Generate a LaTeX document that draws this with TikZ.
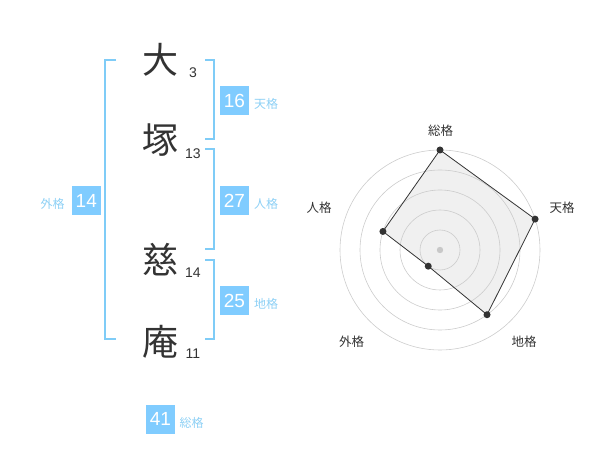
\documentclass[tikz,border=0pt]{standalone}
\usepackage{fontspec}
\setmainfont{Liberation Sans}
\newfontfamily\cjk{Noto Sans CJK JP}
\definecolor{bracketblue}{HTML}{7FCCF7}
\definecolor{boxblue}{HTML}{80CCFF}
\definecolor{labelblue}{HTML}{8DD0F5}
\definecolor{ink}{HTML}{333333}
\definecolor{ringgray}{HTML}{CCCCCC}
\definecolor{polyfill}{HTML}{F0F0F0}
\definecolor{centergray}{HTML}{C8C8C8}
\begin{document}
\begin{tikzpicture}[x=1pt,y=-1pt,
  bigchar/.style={font=\cjk\fontsize{36}{36}\selectfont, text=ink, inner sep=0pt},
  strokenum/.style={font=\fontsize{14}{14}\selectfont, text=ink, inner sep=0pt},
  valbox/.style={fill=boxblue, text=white, minimum width=29pt, minimum height=29pt, inner sep=0pt, font=\fontsize{19}{19}\selectfont},
  kaku/.style={font=\cjk\fontsize{12}{12}\selectfont, text=labelblue, inner sep=0pt},
  bracket/.style={draw=bracketblue, line width=2pt},
  axislabel/.style={font=\cjk\fontsize{12.5}{12.5}\selectfont, text=ink, inner sep=0pt},
  ring/.style={draw=ringgray, line width=0.6pt},
  vdot/.style={circle, fill=ink, inner sep=0pt, minimum size=7pt},
]
\useasboundingbox (0,0) rectangle (600,470);
% characters
\node[bigchar] (c1) at (160,60) {大};
\node[bigchar] (c2) at (160,140.5) {塚};
\node[bigchar] (c3) at (160,260) {慈};
\node[bigchar] (c4) at (160,341.7) {庵};
\node[strokenum] (n1) at (193,72.5) {3};
\node[strokenum] (n2) at (193,153.3) {13};
\node[strokenum] (n3) at (193,272.5) {14};
\node[strokenum] (n4) at (193,353.3) {11};
% brackets
\draw[bracket] (116,60) -- (105,60) -- (105,339.3) -- (116,339.3);
\draw[bracket] (205,60) -- (214.3,60) -- (214.3,139.3) -- (205,139.3);
\draw[bracket] (205,149.3) -- (214.3,149.3) -- (214.3,249.3) -- (205,249.3);
\draw[bracket] (205,260) -- (214.3,260) -- (214.3,339.3) -- (205,339.3);
% value boxes
\node[valbox] (ten) at (234.5,100.5) {16};
\node[kaku] (tenl) at (266,104) {天格};
\node[valbox] (jin) at (234.5,200.5) {27};
\node[kaku] (jinl) at (266,204) {人格};
\node[valbox] (chi) at (234.5,300.5) {25};
\node[kaku] (chil) at (266,304) {地格};
\node[valbox] (gai) at (86.3,200.5) {14};
\node[kaku] (gail) at (52.7,204) {外格};
\node[valbox] (sou) at (160.5,419) {41};
\node[kaku] (soul) at (191.7,423.3) {総格};
% radar
\coordinate (c) at (440,250);
\begin{scope}[shift={(440,250)}]
  \coordinate (p1) at (-90:100);
  \coordinate (p2) at (-18:100);
  \coordinate (p3) at (54:80);
  \coordinate (p4) at (126:20);
  \coordinate (p5) at (198:60);
\end{scope}
\fill[polyfill] (p1) -- (p2) -- (p3) -- (p4) -- (p5) -- cycle;
\foreach \r in {20,40,60,80,100} \draw[ring] (c) circle[radius=\r pt];
\fill[centergray] (c) circle[radius=3.2pt];
\draw[ink, line width=0.8pt] (p1) -- (p2) -- (p3) -- (p4) -- (p5) -- cycle;
\foreach \p in {p1,p2,p3,p4,p5} \node[vdot] at (\p) {};
\node[axislabel] (a1) at (440.7,130.7) {総格};
\node[axislabel] (a2) at (562,208) {天格};
\node[axislabel] (a3) at (524,342) {地格};
\node[axislabel] (a4) at (351.7,341.7) {外格};
\node[axislabel] (a5) at (319,208) {人格};
\end{tikzpicture}
\end{document}
